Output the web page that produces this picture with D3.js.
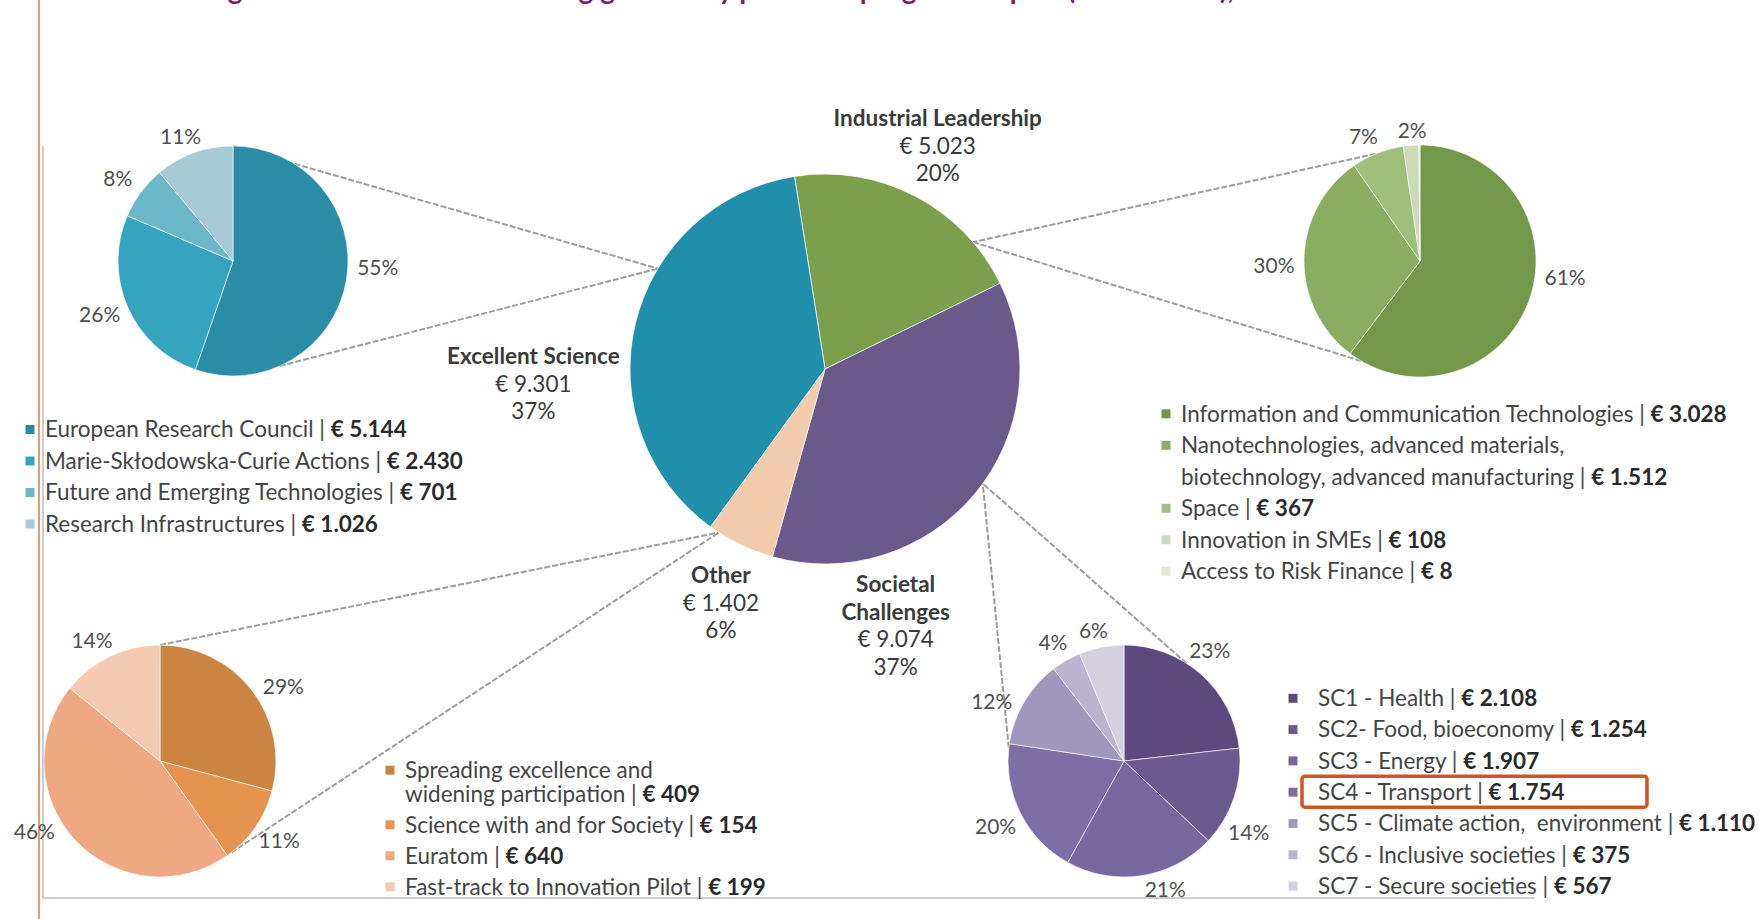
<!DOCTYPE html>
<html>
  <head>
    <meta charset="utf-8">
    <script src="https://cdn.jsdelivr.net/npm/d3@7"></script>
    <style>
      body { margin: 0; background: #fff; }
      text { font-family: Lato, "Open Sans", sans-serif; }
      .title { font-size: 28px; font-weight: bold; fill: #7b2169; }
      .pct { font-size: 21px; fill: #505050; }
      .legend text { font-size: 22.5px; fill: #444; white-space: pre; }
      .legend .val { font-weight: bold; fill: #2a2a2a; }
      .main-label text { font-size: 22.5px; fill: #3a3a3a; }
      .main-label .name { font-weight: bold; }
      .connector { fill: none; stroke: #9d9d9d; stroke-width: 2; stroke-dasharray: 6 2; }
      .frame { fill: none; stroke: #bdbdbd; stroke-width: 1.5; }
    </style>
  </head>
  <body>
    <svg width="1763" height="919"></svg>
    <script>
      // ---- data (EUR million) ----
      var mainCats = ['Industrial Leadership', 'Societal\nChallenges', 'Other', 'Excellent Science'];
      var mainValues = [5023, 9074, 1402, 9301];
      var mainPcts = ['20%', '37%', '6%', '37%'];
      var mainColors = ['#7b9f4c', '#695a8b', '#f2cbad', '#1f8fab'];

      var esCats = ['European Research Council', 'Marie-Skłodowska-Curie Actions',
                    'Future and Emerging Technologies', 'Research Infrastructures'];
      var esValues = [5144, 2430, 701, 1026];
      var esPcts = ['55%', '26%', '8%', '11%'];
      var esColors = ['#2b8ca6', '#35a5bf', '#6cb7ca', '#a7cbd6'];

      var ilCats = ['Information and Communication Technologies',
                    'Nanotechnologies, advanced materials,\nbiotechnology, advanced manufacturing',
                    'Space', 'Innovation in SMEs', 'Access to Risk Finance'];
      var ilValues = [3028, 1512, 367, 108, 8];
      var ilPcts = ['61%', '30%', '7%', '2%', ''];
      var ilColors = ['#73984a', '#89ae62', '#9fc07c', '#c9dbb8', '#e0e9d6'];

      var scCats = ['SC1 - Health', 'SC2- Food, bioeconomy', 'SC3 - Energy', 'SC4 - Transport',
                    'SC5 - Climate action,  environment', 'SC6 - Inclusive societies', 'SC7 - Secure societies'];
      var scValues = [2108, 1254, 1907, 1754, 1110, 375, 567];
      var scPcts = ['23%', '14%', '21%', '20%', '12%', '4%', '6%'];
      var scColors = ['#5c4a7e', '#6a5a90', '#7868a0', '#7e6ea6', '#a097bd', '#bbb3cf', '#d4d0e0'];

      var otCats = ['Spreading excellence and\nwidening participation', 'Science with and for Society',
                    'Euratom', 'Fast-track to Innovation Pilot'];
      var otValues = [409, 154, 640, 199];
      var otPcts = ['29%', '11%', '46%', '14%'];
      var otColors = ['#cc8443', '#e4944f', '#efa982', '#f4cab2'];

      var titleText = 'Figure 2: Horizon 2020 funding granted by pillar and programme part (EUR million), 2014-2020';

      // ---- layout ----
      var svg = d3.select('svg');
      var rad = function (deg) { return deg * Math.PI / 180; };
      var fmt = d3.formatLocale({ decimal: ',', thousands: '.', grouping: [3], currency: ['€ ', ''] }).format(',d');

      var main = { cx: 825, cy: 369, r: 195, start: -9 };
      // label block centre for each main slice: [clock angle, distance]
      var mainLabelPos = [[26.8, 250], [164.6, 266], [204, 256], [267.1, 292]];

      var pies = [
        { cats: esCats, values: esValues, pcts: esPcts, colors: esColors,
          cx: 233, cy: 261, r: 115, nudge: [-7, 2, -1, -3],
          links: [[0, 301], [156, 301]],
          legend: { sx: 30, tx: 45, y: 429.5, step: 31.5, wrap: 31.5 } },
        { cats: ilCats, values: ilValues, pcts: ilPcts, colors: ilColors,
          cx: 1420, cy: 261, r: 116, nudge: [-12, -3, -3, 1, 0],
          links: [[337.5, 49.4], [210.5, 49.4]],
          legend: { sx: 1166, tx: 1181, y: 413.8, step: 31.5, wrap: 31.5 } },
        { cats: scCats, values: scValues, pcts: scPcts, colors: scColors,
          cx: 1124, cy: 761, r: 116, nudge: [-4, 11.5, -9, -1, -6.6, -1, -2],
          links: [[276.6, 126], [32.6, 126]],
          legend: { sx: 1293, tx: 1318, y: 698.3, step: 31.3, wrap: 31.3, highlight: 3 } },
        { cats: otCats, values: otValues, pcts: otPcts, colors: otColors,
          cx: 160, cy: 761, r: 116, nudge: [6.5, -1, 14, -4],
          links: [[0, 213], [142, 213]],
          legend: { sx: 390, tx: 405, y: 770.2, step: 31, wrap: 23.6 } }
      ];

      function onCircle(cx, cy, r, deg) {
        return [cx + r * Math.sin(rad(deg)), cy - r * Math.cos(rad(deg))];
      }

      // title (only its descenders show at the top edge, as in the source)
      svg.append('text').attr('class', 'title')
          .attr('x', 793).attr('y', -1)
          .attr('text-anchor', 'middle')
          .text(titleText);

      // page rule and frame
      svg.append('line')
          .attr('x1', 39).attr('x2', 39).attr('y1', 0).attr('y2', 919)
          .attr('stroke', '#e39b72').attr('stroke-width', 2);
      svg.append('path').attr('class', 'frame')
          .attr('d', 'M43,146V898H1535');

      // connector lines
      var linkG = svg.append('g');
      pies.forEach(function (p) {
        p.links.forEach(function (l) {
          var a = onCircle(p.cx, p.cy, p.r, l[0]);
          var b = onCircle(main.cx, main.cy, main.r, l[1]);
          linkG.append('path').attr('class', 'connector')
              .attr('d', d3.line()([a, b]));
        });
      });

      // main pie
      var mainArcs = d3.pie().sort(null)
          .startAngle(rad(main.start)).endAngle(rad(main.start + 360))
          .value(function (d) { return d; })(mainValues);
      var mainG = svg.append('g').attr('transform', 'translate(' + main.cx + ',' + main.cy + ')');
      mainG.selectAll('path').data(mainArcs).enter().append('path')
          .attr('d', d3.arc().innerRadius(0).outerRadius(main.r))
          .attr('fill', function (d, i) { return mainColors[i]; })
          .attr('stroke', '#fff').attr('stroke-opacity', 0.7).attr('stroke-width', 1);

      var mainLab = svg.append('g').attr('class', 'main-label');
      mainCats.forEach(function (c, i) {
        var lines = c.split('\n');
        var rows = lines.map(function (t) { return { t: t, cls: 'name' }; })
            .concat([{ t: '€ ' + fmt(mainValues[i]), cls: 'num' }, { t: mainPcts[i], cls: 'num' }]);
        var pos = onCircle(main.cx, main.cy, mainLabelPos[i][1], mainLabelPos[i][0]);
        var lh = 27.5;
        var y0 = pos[1] - (rows.length - 1) * lh / 2;
        rows.forEach(function (r, j) {
          mainLab.append('text').attr('class', r.cls)
              .attr('x', pos[0]).attr('y', y0 + j * lh).attr('dy', '0.35em')
              .attr('text-anchor', 'middle').text(r.t);
        });
      });

      // detail pies
      pies.forEach(function (p) {
        var arcs = d3.pie().sort(null).value(function (d) { return d; })(p.values);
        var g = svg.append('g').attr('transform', 'translate(' + p.cx + ',' + p.cy + ')');
        g.selectAll('path').data(arcs).enter().append('path')
            .attr('d', d3.arc().innerRadius(0).outerRadius(p.r))
            .attr('fill', function (d, i) { return p.colors[i]; })
            .attr('stroke', '#fff').attr('stroke-opacity', 0.6).attr('stroke-width', 1);

        // labels sit closer above/below the pie than beside it
        g.selectAll('text.pct').data(arcs).enter().append('text')
            .attr('class', 'pct')
            .each(function (d, i) {
              var a = (d.startAngle + d.endAngle) / 2 + rad(p.nudge[i]);
              var k = 1.12 + 0.14 * Math.abs(Math.sin(a));
              d3.select(this)
                  .attr('x', Math.sin(a) * p.r * k)
                  .attr('y', -Math.cos(a) * p.r * k);
            })
            .attr('dy', '0.35em').attr('text-anchor', 'middle')
            .text(function (d, i) { return p.pcts[i]; });

        // legend
        var L = p.legend;
        var lg = svg.append('g').attr('class', 'legend');
        var y = L.y;
        p.cats.forEach(function (c, i) {
          var lines = c.split('\n');
          lg.append('rect')
              .attr('x', L.sx - 4.5).attr('y', y - 4.5)
              .attr('width', 9).attr('height', 9)
              .attr('fill', p.colors[i]);
          lines.forEach(function (ln, j) {
            var t = lg.append('text').attr('x', L.tx).attr('y', y + j * L.wrap).attr('dy', '0.35em');
            if (j < lines.length - 1) {
              t.text(ln);
            } else {
              t.append('tspan').text(ln + ' | ');
              t.append('tspan').attr('class', 'val').text('€ ' + fmt(p.values[i]));
            }
          });
          if (L.highlight === i) {
            lg.append('rect')
                .attr('x', L.tx - 16).attr('y', y - 16)
                .attr('width', 345).attr('height', 31)
                .attr('rx', 3)
                .attr('fill', 'none').attr('stroke', '#d4541c').attr('stroke-width', 3.5);
          }
          y += (lines.length - 1) * L.wrap + L.step;
        });
      });
    </script>
  </body>
</html>
